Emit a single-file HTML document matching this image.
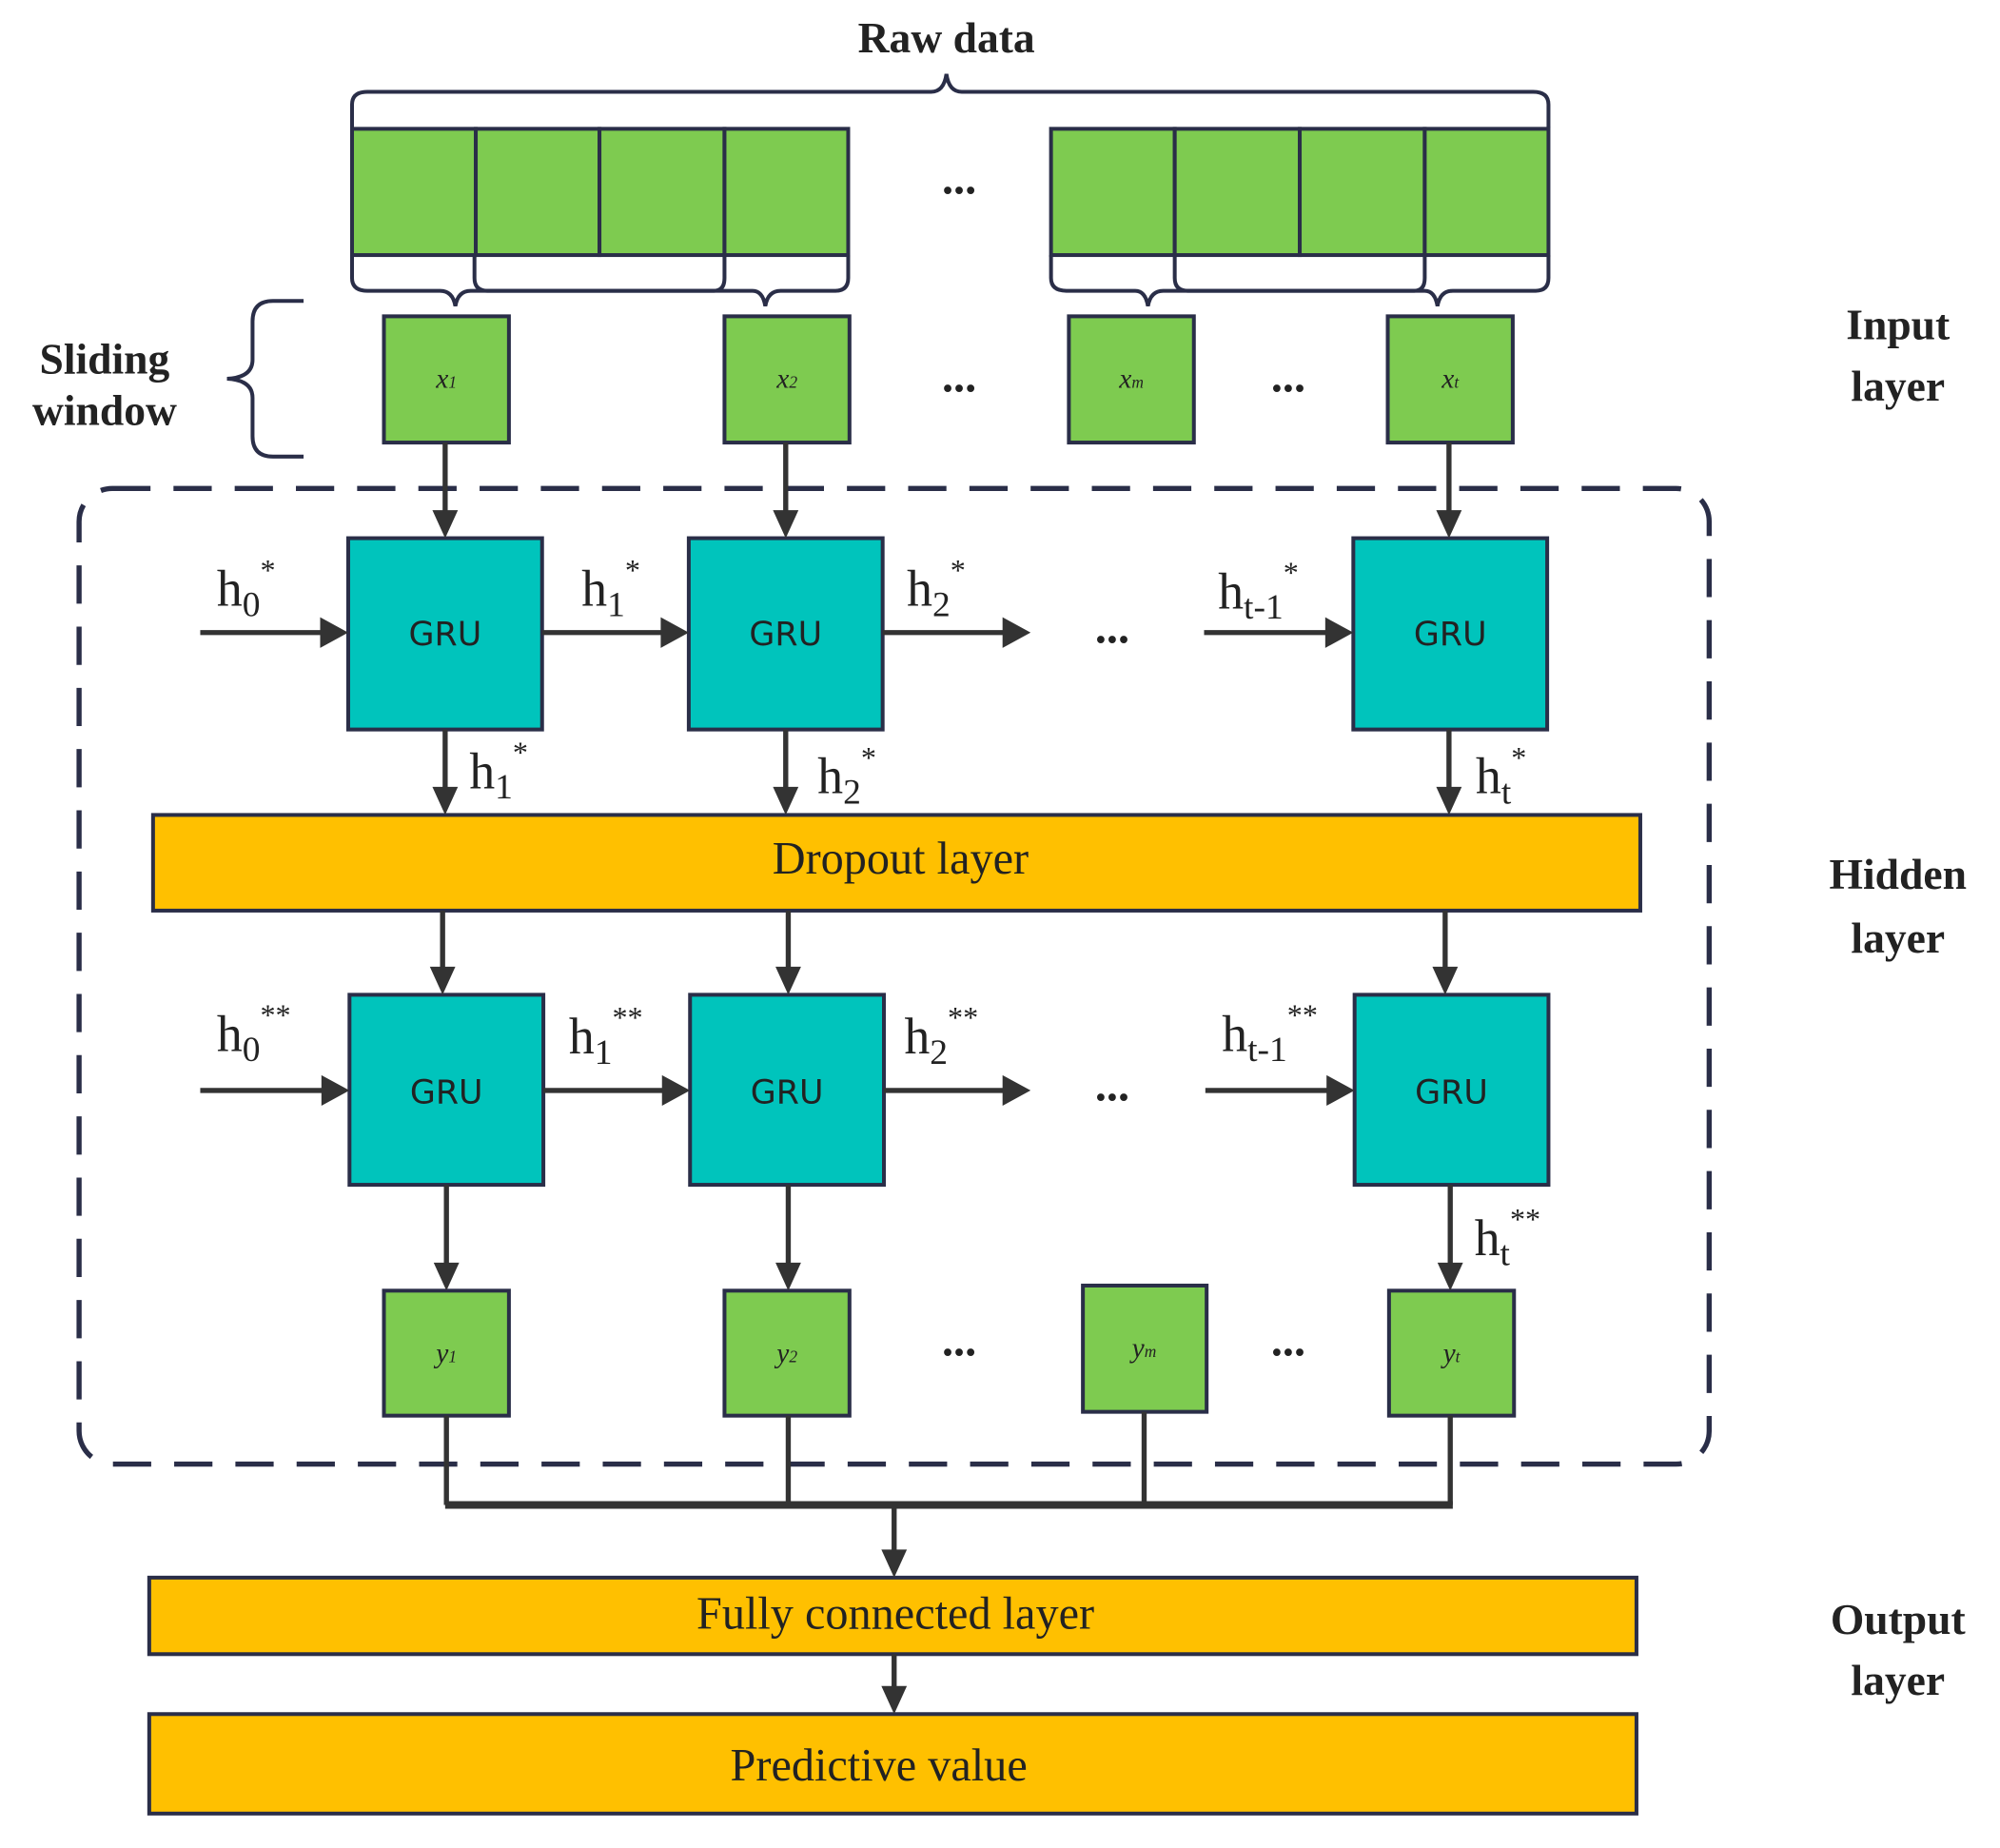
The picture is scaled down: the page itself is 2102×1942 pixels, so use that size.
<!DOCTYPE html>
<html><head><meta charset="utf-8"><style>
html,body{margin:0;padding:0;background:#fff}
svg{display:block}
.s{font-family:"Liberation Serif",serif;fill:#222}
.b{font-weight:bold}
.g{font-family:"DejaVu Sans","Liberation Sans",sans-serif;fill:#222;font-size:26px}
</style></head><body>
<svg width="2102" height="1942" viewBox="0 0 1568 1449" preserveAspectRatio="none" xmlns="http://www.w3.org/2000/svg">
<defs>
<marker id="a" markerWidth="10" markerHeight="10" refX="9" refY="5" orient="auto" markerUnits="userSpaceOnUse" viewBox="0 0 10 10">
</marker>
</defs>
<g stroke="#2a2e48" stroke-width="3" fill="none">
<!-- top brace -->
<path d="M276 100 V82 Q276 72 288 72 H730 Q740 72 742 58 Q744 72 754 72 H1202 Q1214 72 1214 82 V100"/>
<!-- lower braces left -->
<path d="M276 200 V218 Q276 228 288 228 H345 Q355 228 357 240 Q359 228 369 228 H560 Q568 228 568 218 V200"/>
<path d="M372 200 V218 Q372 228 382 228 H590 Q598 228 600 240 Q602 228 612 228 H655 Q665 228 665 218 V200"/>
<path d="M824 200 V218 Q824 228 836 228 H890 Q898 228 900 240 Q902 228 912 228 H1109 Q1117 228 1117 218 V200"/>
<path d="M921 200 V218 Q921 228 931 228 H1117 Q1125 228 1127 240 Q1129 228 1139 228 H1204 Q1214 228 1214 218 V200"/>
<!-- sliding window brace -->
<path d="M238 236 H214 Q198 236 198 252 V282 Q198 296 178 297 Q198 298 198 312 V342 Q198 358 214 358 H238"/>
</g>
<!-- raw data cells -->
<g fill="#7ecb50" stroke="#2a2e48" stroke-width="3">
<rect x="276" y="101" width="97" height="99"/><rect x="373" y="101" width="97" height="99"/><rect x="470" y="101" width="98" height="99"/><rect x="568" y="101" width="97" height="99"/>
<rect x="824" y="101" width="97" height="99"/><rect x="921" y="101" width="98" height="99"/><rect x="1019" y="101" width="98" height="99"/><rect x="1117" y="101" width="97" height="99"/>
<rect x="301" y="248" width="98" height="99"/><rect x="568" y="248" width="98" height="99"/><rect x="838" y="248" width="98" height="99"/><rect x="1088" y="248" width="98" height="99"/>
<rect x="301" y="1012" width="98" height="98"/><rect x="568" y="1012" width="98" height="98"/><rect x="849" y="1008" width="97" height="99"/><rect x="1089" y="1012" width="98" height="98"/>
</g>
<!-- dashed box -->
<rect x="62" y="383" width="1278" height="765" rx="26" fill="none" stroke="#2a2e48" stroke-width="4" stroke-dasharray="30 18"/>
<!-- GRU boxes -->
<g fill="#00c4bc" stroke="#2a2e48" stroke-width="3">
<rect x="273" y="422" width="152" height="150"/><rect x="540" y="422" width="152" height="150"/><rect x="1061" y="422" width="152" height="150"/>
<rect x="274" y="780" width="152" height="149"/><rect x="541" y="780" width="152" height="149"/><rect x="1062" y="780" width="152" height="149"/>
</g>
<g fill="#ffc000" stroke="#2a2e48" stroke-width="3">
<rect x="120" y="639" width="1166" height="75"/>
<rect x="117" y="1237" width="1166" height="60"/>
<rect x="117" y="1344" width="1166" height="78"/>
</g>
<!-- connectors -->
<g stroke="#333" stroke-width="4" fill="none">
<path d="M349 347 V404 M616 347 V404 M1136 347 V404"/>
<path d="M157 496 H255 M425 496 H522 M692 496 H790 M944 496 H1043"/>
<path d="M349 572 V621 M616 572 V621 M1136 572 V621"/>
<path d="M347 714 V762 M618 714 V762 M1133 714 V762"/>
<path d="M157 855 H256 M426 855 H523 M693 855 H790 M945 855 H1044"/>
<path d="M350 929 V994 M618 929 V994 M1137 929 V994"/>
<path d="M350 1110 V1180 M618 1110 V1180 M897 1107 V1180 M1137 1110 V1180"/>
<path d="M701 1180 V1219 M701 1297 V1326"/>
</g>
<path d="M349 1180 H1139" stroke="#333" stroke-width="6"/>
<g fill="#333">
<!-- down heads -->
<path d="M339 400 L359 400 L349 422Z M606 400 L626 400 L616 422Z M1126 400 L1146 400 L1136 422Z"/>
<path d="M339 617 L359 617 L349 639Z M606 617 L626 617 L616 639Z M1126 617 L1146 617 L1136 639Z"/>
<path d="M337 758 L357 758 L347 780Z M608 758 L628 758 L618 780Z M1123 758 L1143 758 L1133 780Z"/>
<path d="M340 990 L360 990 L350 1012Z M608 990 L628 990 L618 1012Z M1127 990 L1147 990 L1137 1012Z"/>
<path d="M691 1215 L711 1215 L701 1237Z M691 1322 L711 1322 L701 1344Z"/>
<!-- right heads -->
<path d="M251 484 L273 496 L251 508Z M518 484 L540 496 L518 508Z M786 484 L808 496 L786 508Z M1039 484 L1061 496 L1039 508Z"/>
<path d="M252 843 L274 855 L252 867Z M519 843 L541 855 L519 867Z M786 843 L808 855 L786 867Z M1040 843 L1062 855 L1040 867Z"/>
</g>
<!-- texts -->
<g class="s">
<text x="742" y="41" class="s b" font-size="34" text-anchor="middle">Raw data</text>
<text x="82" y="293" class="s b" font-size="34" text-anchor="middle">Sliding</text>
<text x="82" y="333" class="s b" font-size="34" text-anchor="middle">window</text>
<text x="1488" y="266" class="s b" font-size="34" text-anchor="middle">Input</text>
<text x="1488" y="314" class="s b" font-size="34" text-anchor="middle">layer</text>
<text x="1488" y="697" class="s b" font-size="34" text-anchor="middle">Hidden</text>
<text x="1488" y="747" class="s b" font-size="34" text-anchor="middle">layer</text>
<text x="1488" y="1281" class="s b" font-size="34" text-anchor="middle">Output</text>
<text x="1488" y="1329" class="s b" font-size="34" text-anchor="middle">layer</text>
<g font-size="36" font-weight="bold" text-anchor="middle">
<text x="752" y="152">...</text><text x="752" y="307">...</text><text x="1010" y="307">...</text>
<text x="872" y="504">...</text><text x="872" y="863">...</text>
<text x="752" y="1063">...</text><text x="1010" y="1063">...</text>
</g>
<g font-size="22" font-style="italic" text-anchor="middle">
<text x="350" y="304">x<tspan font-size="13">1</tspan></text>
<text x="617" y="304">x<tspan font-size="13">2</tspan></text>
<text x="887" y="304">x<tspan font-size="13">m</tspan></text>
<text x="1137" y="304">x<tspan font-size="13">t</tspan></text>
<text x="350" y="1068">y<tspan font-size="13">1</tspan></text>
<text x="617" y="1068">y<tspan font-size="13">2</tspan></text>
<text x="897" y="1064">y<tspan font-size="13">m</tspan></text>
<text x="1138" y="1068">y<tspan font-size="13">t</tspan></text>
</g>
<g font-size="40">
<text x="170" y="475">h<tspan font-size="28" dy="8">0</tspan><tspan font-size="24" dy="-28">*</tspan></text>
<text x="456" y="475">h<tspan font-size="28" dy="8">1</tspan><tspan font-size="24" dy="-28">*</tspan></text>
<text x="711" y="475">h<tspan font-size="28" dy="8">2</tspan><tspan font-size="24" dy="-28">*</tspan></text>
<text x="955" y="477">h<tspan font-size="28" dy="8">t-1</tspan><tspan font-size="24" dy="-28">*</tspan></text>
<text x="368" y="618">h<tspan font-size="28" dy="8">1</tspan><tspan font-size="24" dy="-28">*</tspan></text>
<text x="641" y="622">h<tspan font-size="28" dy="8">2</tspan><tspan font-size="24" dy="-28">*</tspan></text>
<text x="1157" y="622">h<tspan font-size="28" dy="8">t</tspan><tspan font-size="24" dy="-28">*</tspan></text>
<text x="170" y="824">h<tspan font-size="28" dy="8">0</tspan><tspan font-size="24" dy="-28">**</tspan></text>
<text x="446" y="826">h<tspan font-size="28" dy="8">1</tspan><tspan font-size="24" dy="-28">**</tspan></text>
<text x="709" y="826">h<tspan font-size="28" dy="8">2</tspan><tspan font-size="24" dy="-28">**</tspan></text>
<text x="958" y="824">h<tspan font-size="28" dy="8">t-1</tspan><tspan font-size="24" dy="-28">**</tspan></text>
<text x="1156" y="984">h<tspan font-size="28" dy="8">t</tspan><tspan font-size="24" dy="-28">**</tspan></text>
</g>
<text x="706" y="685" font-size="36" text-anchor="middle">Dropout layer</text>
<text x="702" y="1277" font-size="36" text-anchor="middle">Fully connected layer</text>
<text x="689" y="1396" font-size="36" text-anchor="middle">Predictive value</text>
</g>
<g class="g" text-anchor="middle">
<text x="349" y="506">GRU</text><text x="616" y="506">GRU</text><text x="1137" y="506">GRU</text>
<text x="350" y="865">GRU</text><text x="617" y="865">GRU</text><text x="1138" y="865">GRU</text>
</g>
</svg>
</body></html>
